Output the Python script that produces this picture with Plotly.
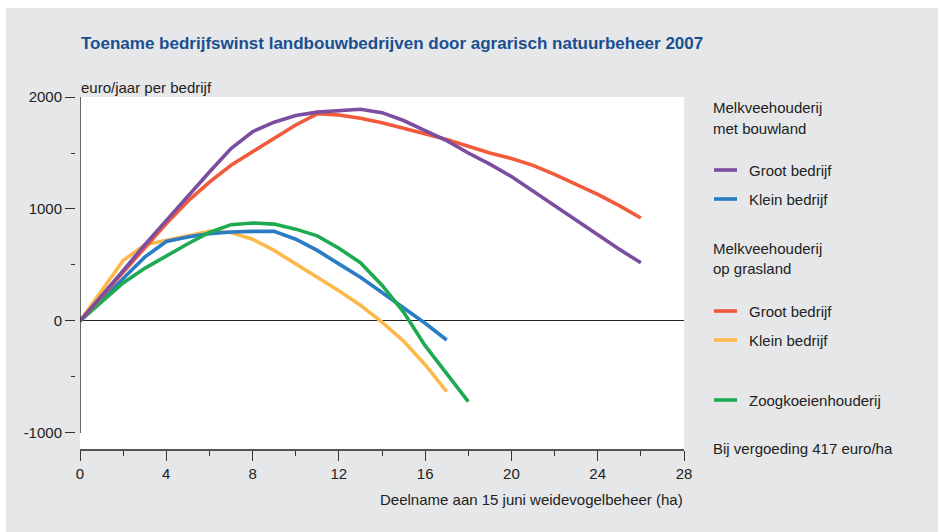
import plotly.graph_objects as go

W, H = 938, 532
FONT = "Liberation Sans, Arial, sans-serif"
FS = 15

x_groot_bouw = list(range(0, 27))
y_groot_bouw = [0, 220, 450, 680, 900, 1110, 1330, 1540, 1690, 1775, 1835, 1865, 1880, 1890,
                1860, 1790, 1700, 1610, 1500, 1400, 1290, 1160, 1030, 900, 770, 640, 520]

x_klein_bouw = list(range(0, 18))
y_klein_bouw = [0, 180, 380, 570, 710, 750, 780, 795, 800, 800, 730, 630, 510, 390, 255, 120, -20, -170]

x_groot_gras = list(range(0, 27))
y_groot_gras = [0, 220, 440, 660, 870, 1070, 1240, 1390, 1510, 1630, 1750, 1850, 1840, 1810,
                1770, 1720, 1670, 1620, 1560, 1500, 1450, 1390, 1310, 1220, 1130, 1030, 920]

x_klein_gras = list(range(0, 18))
y_klein_gras = [0, 270, 540, 680, 720, 760, 800, 790, 730, 630, 510, 390, 270, 140, -10, -180, -390, -630]

x_zoog = list(range(0, 19))
y_zoog = [0, 175, 340, 470, 580, 690, 790, 860, 875, 865, 820, 760, 650, 520, 320, 80, -220, -470, -720]

x_ticks = [0, 4, 8, 12, 16, 20, 24, 28]
y_ticks = [-1000, 0, 1000, 2000]
y_tick_labels = ["-1000", "0", "1000", "2000"]

series = [
    ("Groot bedrijf (bouwland)", x_groot_bouw, y_groot_bouw, "#7b4ea0"),
    ("Klein bedrijf (bouwland)", x_klein_bouw, y_klein_bouw, "#2a7dc4"),
    ("Groot bedrijf (grasland)", x_groot_gras, y_groot_gras, "#f15a3a"),
    ("Klein bedrijf (grasland)", x_klein_gras, y_klein_gras, "#fdb84c"),
    ("Zoogkoeienhouderij", x_zoog, y_zoog, "#1eaa50"),
]

fig = go.Figure()
order = [3, 1, 4, 2, 0]
for i in order:
    name, xs, ys, col = series[i]
    fig.add_trace(go.Scatter(x=xs, y=ys, mode="lines", name=name,
                             line=dict(color=col, width=3.6), showlegend=False,
                             hoverinfo="x+y"))

def px(v):
    return v / W

def py(v):
    return 1 - v / H

fig.update_layout(
    width=W, height=H,
    margin=dict(l=0, r=0, t=0, b=0, pad=0),
    paper_bgcolor="#e6e7e9",
    plot_bgcolor="#ffffff",
    showlegend=False,
    font=dict(family=FONT, size=FS, color="#222222"),
    xaxis=dict(domain=[px(80), px(684)], range=[0, 28], tickvals=x_ticks,
               automargin=False,
               ticks="outside", ticklen=10, tickwidth=1.2, tickcolor="#333333",
               minor=dict(dtick=2, ticks="outside", ticklen=5, tickwidth=1.2, tickcolor="#333333"),
               showline=True, linecolor="#555555", linewidth=1.5,
               showgrid=False, zeroline=False, tickfont=dict(size=FS)),
    yaxis=dict(domain=[1 - 449 / H, 1 - 97 / H], range=[-1143, 2000],
               tickvals=y_ticks, ticktext=y_tick_labels,
               automargin=False,
               anchor="free", position=px(75),
               ticks="outside", ticklen=10, tickwidth=1.2, tickcolor="#333333",
               minor=dict(dtick=500, ticks="outside", ticklen=4, tickwidth=1.2, tickcolor="#333333"),
               showline=False, showgrid=False,
               zeroline=True, zerolinecolor="#222222", zerolinewidth=1.2,
               tickfont=dict(size=FS)),
)

shapes = [
    dict(type="rect", xref="paper", yref="paper", x0=0, x1=1, y0=py(8), y1=1,
         fillcolor="#ffffff", line=dict(width=0), layer="above"),
    dict(type="rect", xref="paper", yref="paper", x0=0, x1=px(6), y0=0, y1=1,
         fillcolor="#ffffff", line=dict(width=0), layer="above"),
    dict(type="line", xref="x", yref="y", x0=0, x1=0, y0=-1000, y1=2000,
         line=dict(color="#333333", width=1.5), layer="above"),
]

annotations = [
    dict(text="<b>Toename bedrijfswinst landbouwbedrijven door agrarisch natuurbeheer 2007</b>",
         xref="paper", yref="paper", x=px(79), y=py(44), xanchor="left", yanchor="middle",
         showarrow=False, font=dict(size=17, color="#1a4f91", family=FONT)),
    dict(text="euro/jaar per bedrijf", xref="paper", yref="paper", x=px(79), y=py(87),
         xanchor="left", yanchor="middle", showarrow=False, font=dict(size=FS)),
    dict(text="Deelname aan 15 juni weidevogelbeheer (ha)", xref="paper", yref="paper",
         x=px(685), y=py(499), xanchor="right", yanchor="middle", showarrow=False,
         font=dict(size=FS)),
]

legend_items = [
    ("text", "Melkveehouderij", 108, None),
    ("text", "met bouwland", 128, None),
    ("line", "Groot bedrijf", 170, "#7b4ea0"),
    ("line", "Klein bedrijf", 199, "#2a7dc4"),
    ("text", "Melkveehouderij", 248, None),
    ("text", "op grasland", 268, None),
    ("line", "Groot bedrijf", 311, "#f15a3a"),
    ("line", "Klein bedrijf", 340, "#fdb84c"),
    ("line", "Zoogkoeienhouderij", 400, "#1eaa50"),
    ("text", "Bij vergoeding 417 euro/ha", 448, None),
]
for kind, label, yy, col in legend_items:
    if kind == "text":
        annotations.append(dict(text=label, xref="paper", yref="paper", x=px(711), y=py(yy),
                                xanchor="left", yanchor="middle", showarrow=False,
                                font=dict(size=FS)))
    else:
        shapes.append(dict(type="line", xref="paper", yref="paper", x0=px(714), x1=px(737),
                           y0=py(yy), y1=py(yy), line=dict(color=col, width=3.6)))
        annotations.append(dict(text=label, xref="paper", yref="paper", x=px(747), y=py(yy),
                                xanchor="left", yanchor="middle", showarrow=False,
                                font=dict(size=FS)))

fig.update_layout(shapes=shapes, annotations=annotations)
fig.write_html("out.html", config=dict(displayModeBar=False),
               post_script="document.body.style.margin='0';document.body.style.overflow='hidden';")
